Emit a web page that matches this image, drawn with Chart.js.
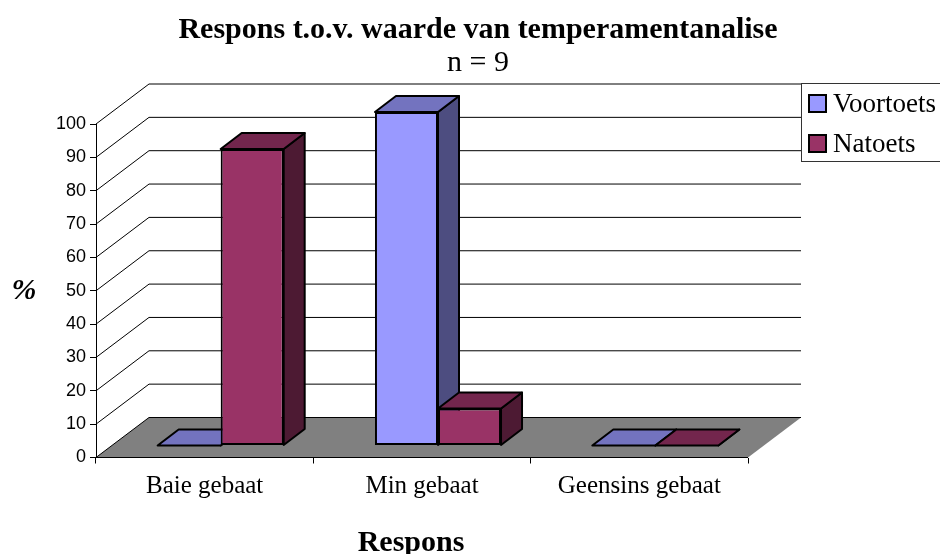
<!DOCTYPE html>
<html>
<head>
<meta charset="utf-8">
<title>Respons t.o.v. waarde van temperamentanalise</title>
<script src="https://cdn.jsdelivr.net/npm/chart.js@4"></script>
<style>
body { margin: 0; background: #fff; }
canvas { display: block; }
</style>
</head>
<body>
<canvas id="respons_chart" width="940" height="554"></canvas>
<script>
const categories = ['Baie gebaat', 'Min gebaat', 'Geensins gebaat'];
const voortoets = [0, 100, 0];
const natoets = [88.9, 11.1, 0];
const yTicks = [0, 10, 20, 30, 40, 50, 60, 70, 80, 90, 100];

const SERIF = '"Liberation Serif", serif';
const SANS = '"Liberation Sans", sans-serif';

// depth of the fake 3D box: whole floor, one bar, and where bars sit on the floor
const WALL_DX = 53, WALL_DY = -40;
const BAR_DX = 21, BAR_DY = -16;
const SHIFT_X = 16, SHIFT_Y = -12;

function poly(ctx, pts, fill, lineWidth) {
    ctx.beginPath();
    pts.forEach(function(p, i) {
        if (i === 0) ctx.moveTo(p[0], p[1]);
        else ctx.lineTo(p[0], p[1]);
    });
    if (fill) {
        ctx.closePath();
        ctx.fillStyle = fill;
        ctx.fill();
    }
    if (lineWidth) {
        ctx.lineWidth = lineWidth;
        ctx.strokeStyle = '#000';
        ctx.lineJoin = 'round';
        ctx.stroke();
    }
}

const room3d = {
    id: 'room3d',
    beforeDatasetsDraw(chart) {
        const ctx = chart.ctx, area = chart.chartArea, y = chart.scales.y;
        const y0 = y.getPixelForValue(0);
        ctx.save();
        poly(ctx, [
            [area.left, y0],
            [area.left + WALL_DX, y0 + WALL_DY],
            [area.right + WALL_DX, y0 + WALL_DY],
            [area.right, y0]
        ], '#808080');
        yTicks.forEach(function(t) {
            const py = y.getPixelForValue(t);
            poly(ctx, [
                [area.left, py],
                [area.left + WALL_DX, py + WALL_DY],
                [area.right + WALL_DX, py + WALL_DY]
            ], null, 1);
        });
        poly(ctx, [[area.left, y0], [area.right, y0]], null, 1);

        // side and top faces go first, series by series, the library then paints the fronts
        ctx.translate(SHIFT_X, SHIFT_Y);
        chart.data.datasets.forEach(function(ds, i) {
            chart.getDatasetMeta(i).data.forEach(function(bar) {
                const l = bar.x - bar.width / 2, r = bar.x + bar.width / 2;
                poly(ctx, [
                    [r, bar.y], [r + BAR_DX, bar.y + BAR_DY],
                    [r + BAR_DX, bar.base + BAR_DY], [r, bar.base]
                ], ds.sideColor, 2);
                poly(ctx, [
                    [l, bar.y], [l + BAR_DX, bar.y + BAR_DY],
                    [r + BAR_DX, bar.y + BAR_DY], [r, bar.y]
                ], ds.topColor, 2);
            });
        });
        ctx.restore();
    },
    beforeDatasetDraw(chart) {
        chart.ctx.save();
        chart.ctx.translate(SHIFT_X, SHIFT_Y);
    },
    afterDatasetDraw(chart) {
        chart.ctx.restore();
    },
    afterDraw(chart) {
        const ctx = chart.ctx;
        ctx.save();
        // axis titles sit off-centre in the original
        ctx.fillStyle = '#000';
        ctx.textAlign = 'center';
        ctx.textBaseline = 'middle';
        ctx.font = 'bold 30px ' + SERIF;
        ctx.fillText('Respons', 411, 543);
        ctx.font = 'italic bold 30px ' + SERIF;
        ctx.fillText('%', 24, 291);

        // legend box runs off the right edge
        ctx.fillStyle = '#fff';
        ctx.strokeStyle = '#333';
        ctx.lineWidth = 1;
        ctx.fillRect(801, 83, 139, 79);
        ctx.strokeRect(801.5, 83.5, 145, 78);
        ctx.textAlign = 'left';
        ctx.font = '27px ' + SERIF;
        chart.data.datasets.forEach(function(ds, i) {
            const top = 95 + i * 40;
            ctx.fillStyle = ds.backgroundColor;
            ctx.fillRect(809, top, 17, 17);
            ctx.strokeStyle = '#000';
            ctx.lineWidth = 2;
            ctx.strokeRect(809, top, 17, 17);
            ctx.fillStyle = '#000';
            ctx.fillText(ds.label, 833, top + 10);
        });
        ctx.restore();
    }
};

const ctx_respons = document.getElementById('respons_chart').getContext('2d');
const responsChart = new Chart(ctx_respons, {
    type: 'bar',
    data: {
        labels: categories,
        datasets: [{
            label: 'Voortoets',
            data: voortoets,
            backgroundColor: '#9999ff',
            sideColor: '#4d4d80',
            topColor: '#7373bf',
            borderColor: '#000',
            borderWidth: 2,
            borderSkipped: false,
            inflateAmount: 0,
            clip: false
        }, {
            label: 'Natoets',
            data: natoets,
            backgroundColor: '#993366',
            sideColor: '#4d1a33',
            topColor: '#73264d',
            borderColor: '#000',
            borderWidth: 2,
            borderSkipped: false,
            inflateAmount: 0,
            clip: false
        }]
    },
    options: {
        responsive: false,
        animation: false,
        categoryPercentage: 0.58,
        barPercentage: 1,
        layout: {
            padding: { left: 16, right: 0, top: 0, bottom: 0 }
        },
        plugins: {
            legend: { display: false },
            tooltip: { enabled: false },
            title: {
                display: true,
                text: 'Respons t.o.v. waarde van temperamentanalise',
                color: '#000',
                font: { family: SERIF, size: 30, weight: 'bold', lineHeight: 1 },
                padding: { top: 15, bottom: 3 }
            },
            subtitle: {
                display: true,
                text: 'n = 9',
                color: '#000',
                font: { family: SERIF, size: 30, weight: 'normal', lineHeight: 1 },
                padding: { top: 0, bottom: 46 }
            }
        },
        scales: {
            x: {
                grid: { drawOnChartArea: false, drawTicks: true, tickLength: 6, color: '#000' },
                border: { display: false },
                ticks: {
                    color: '#000',
                    padding: 8,
                    maxRotation: 0,
                    font: { family: SERIF, size: 25 }
                },
                afterFit(scale) { scale.height = 96.5; }
            },
            y: {
                min: 0,
                max: 100,
                grid: { drawOnChartArea: false, drawTicks: true, tickLength: 6, color: '#000' },
                border: { display: true, color: '#000', width: 1 },
                ticks: {
                    stepSize: 10,
                    color: '#000',
                    padding: 4,
                    font: { family: SANS, size: 18 }
                },
                afterFit(scale) { scale.width = 80; }
            },
            // keeps the room narrower than the canvas without moving the centred title
            spacer: {
                type: 'linear',
                axis: 'y',
                position: 'right',
                grid: { display: false },
                border: { display: false },
                ticks: { display: false },
                afterFit(scale) { scale.width = 192; }
            }
        }
    },
    plugins: [room3d]
});
</script>
</body>
</html>
